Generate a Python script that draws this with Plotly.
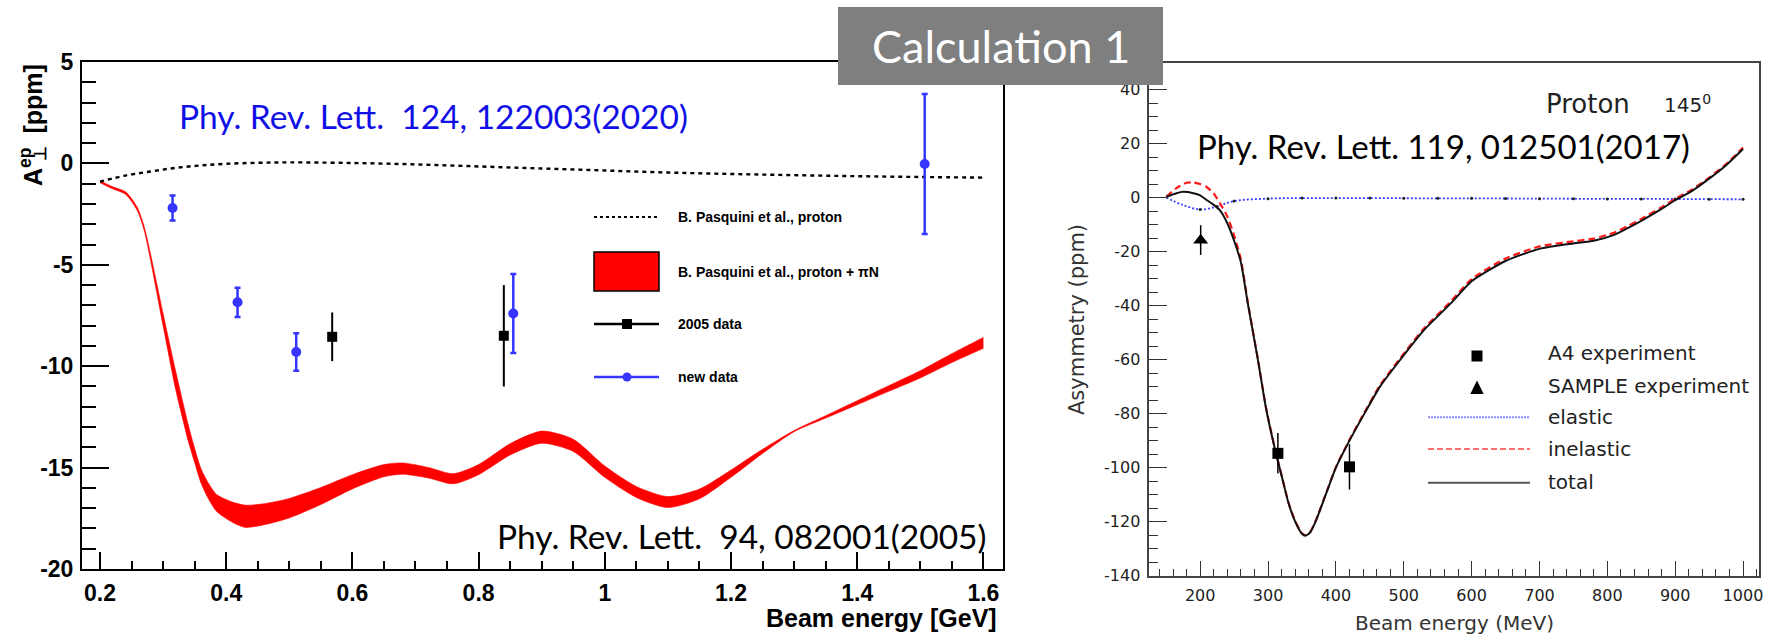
import plotly.graph_objects as go

W, H = 1765, 635


def px(x):
    return x / W


def py(y):
    return 1 - y / H


# ---------------- Left panel data (GeV, ppm) ----------------
band_x = [0.20, 0.22, 0.24, 0.25, 0.26, 0.27, 0.28, 0.30, 0.32, 0.34, 0.35, 0.36, 0.37, 0.385,
          0.41, 0.43, 0.46, 0.50, 0.55, 0.60, 0.65, 0.68, 0.72, 0.76, 0.80, 0.85, 0.90, 0.95,
          1.00, 1.05, 1.10, 1.15, 1.20, 1.25, 1.30, 1.35, 1.40, 1.45, 1.50, 1.55, 1.60]
band_upper = [-0.85, -1.15, -1.39, -1.73, -2.22, -3.11, -4.45, -7.40, -10.25, -12.90, -14.05, -15.05,
              -15.67, -16.33, -16.70, -16.85, -16.78, -16.52, -15.98, -15.35, -14.85, -14.77, -14.99,
              -15.30, -14.85, -13.82, -13.20, -13.60, -14.92, -15.93, -16.43, -16.06, -15.12, -14.10,
              -13.17, -12.44, -11.70, -10.96, -10.22, -9.38, -8.58]
band_lower = [-0.95, -1.25, -1.51, -1.87, -2.38, -3.29, -4.75, -8.00, -11.15, -13.70, -14.75, -15.75,
              -16.43, -17.17, -17.70, -17.95, -17.82, -17.48, -16.82, -16.05, -15.45, -15.33, -15.51,
              -15.80, -15.35, -14.38, -13.80, -14.20, -15.48, -16.47, -16.97, -16.54, -15.48, -14.30,
              -13.23, -12.56, -11.90, -11.24, -10.58, -9.82, -9.12]

proton_x = [0.20, 0.24, 0.28, 0.32, 0.36, 0.40, 0.45, 0.50, 0.60, 0.70, 0.80, 0.90, 1.00, 1.10,
            1.20, 1.30, 1.40, 1.50, 1.60]
proton_y = [-0.90, -0.60, -0.40, -0.22, -0.10, -0.02, 0.03, 0.05, 0.02, -0.05, -0.15, -0.25, -0.35,
            -0.45, -0.52, -0.58, -0.63, -0.67, -0.70]

data2005_x = [0.568, 0.840]
data2005_y = [-8.55, -8.50]
data2005_err = [1.2, 2.5]

new_x = [0.315, 0.418, 0.511, 0.855, 1.507]
new_y = [-2.2, -6.85, -9.3, -7.4, -0.03]
new_err = [0.62, 0.72, 0.92, 1.95, 3.45]

left_xticks = [0.2, 0.4, 0.6, 0.8, 1.0, 1.2, 1.4, 1.6]
left_xtext = ["0.2", "0.4", "0.6", "0.8", "1", "1.2", "1.4", "1.6"]
left_yticks = [-20, -15, -10, -5, 0, 5]
left_ytext = ["-20", "-15", "-10", "-5", "0", "5"]

# ---------------- Right panel data (MeV, ppm) ----------------
total_x = [150, 165, 175, 190, 200, 210, 220, 230, 240, 250, 260, 270, 285, 297, 310, 320, 330, 340,
           350, 355, 362, 370, 385, 400, 420, 442, 465, 495, 530, 570, 600, 650, 700, 750, 780,
           810, 830, 850, 880, 900, 925, 950, 975, 1000]
total_y = [0.3, 1.6, 2.1, 1.6, 0.8, -1.0, -2.7, -5.0, -9.5, -16.0, -24.0, -39.0, -60.0, -78.0,
           -93.0, -103.0, -113.0, -120.0, -124.5, -125.2, -124.0, -120.0, -110.0, -100.0, -90.0,
           -80.0, -70.0, -60.0, -49.0, -39.0, -31.0, -23.5, -19.0, -17.0, -16.0, -13.8, -11.3,
           -8.6, -4.2, -1.0, 2.5, 7.0, 12.0, 18.0]
inel_x = [150, 165, 180, 190, 200, 210, 220, 230, 240, 250, 260, 270, 285, 297, 310, 320, 330, 340,
          350, 355, 362, 370, 385, 400, 420, 442, 465, 495, 530, 570, 600, 650, 700, 750, 780,
          810, 830, 850, 880, 900, 925, 950, 975, 1000]
inel_y = [0.3, 3.5, 5.5, 5.6, 5.0, 3.8, 1.5, -2.5, -7.0, -14.0, -23.0, -38.5, -59.8, -77.8,
          -92.8, -102.8, -112.8, -119.8, -124.3, -125.0, -123.8, -119.8, -109.8, -99.8, -89.7,
          -79.6, -69.5, -59.4, -48.4, -38.3, -30.2, -22.6, -18.1, -16.2, -15.2, -13.0, -10.6,
          -7.9, -3.6, -0.5, 3.0, 7.4, 12.4, 18.5]
elastic_x = [150, 175, 200, 225, 250, 300, 350, 400, 450, 500, 550, 600, 650, 700, 750, 800, 850,
             900, 950, 1000]
elastic_y = [0.0, -2.8, -4.4, -3.3, -1.3, -0.4, -0.2, -0.2, -0.2, -0.25, -0.3, -0.3, -0.35, -0.4,
             -0.45, -0.5, -0.5, -0.55, -0.6, -0.65]

a4_x = [314.5, 420.0]
a4_y = [-94.7, -99.7]
a4_err = [7.5, 8.4]
sample_x = [200.7]
sample_y = [-15.8]
sample_err = [5.5]

right_xticks = [200, 300, 400, 500, 600, 700, 800, 900, 1000]
right_xtext = ["200", "300", "400", "500", "600", "700", "800", "900", "1000"]
right_yticks = [-140, -120, -100, -80, -60, -40, -20, 0, 20, 40]
right_ytext = ["-140", "-120", "-100", "-80", "-60", "-40", "-20", "0", "20", "40"]

BLUE = "#3535ff"
fig = go.Figure()

# left: red band
fig.add_trace(go.Scatter(x=band_x, y=band_lower, mode="lines", xaxis="x", yaxis="y",
                         line=dict(color="#ff0000", width=0.6, shape="spline", smoothing=0.7),
                         showlegend=False, hoverinfo="skip"))
fig.add_trace(go.Scatter(x=band_x, y=band_upper, mode="lines", xaxis="x", yaxis="y",
                         fill="tonexty", fillcolor="#ff0000",
                         line=dict(color="#ff0000", width=0.6, shape="spline", smoothing=0.7),
                         showlegend=False, hoverinfo="skip"))
# proton dotted
fig.add_trace(go.Scatter(x=proton_x, y=proton_y, mode="lines", xaxis="x", yaxis="y",
                         line=dict(color="black", width=2.4, dash="4px,4px", shape="spline"),
                         showlegend=False))
# 2005 data
fig.add_trace(go.Scatter(x=data2005_x, y=data2005_y, mode="markers", xaxis="x", yaxis="y",
                         marker=dict(symbol="square", size=10, color="black"),
                         error_y=dict(type="data", array=data2005_err, color="black", thickness=2, width=0),
                         showlegend=False))
# new data
fig.add_trace(go.Scatter(x=new_x, y=new_y, mode="markers", xaxis="x", yaxis="y",
                         marker=dict(symbol="circle", size=10, color=BLUE),
                         error_y=dict(type="data", array=new_err, color=BLUE, thickness=2.5, width=3),
                         showlegend=False))

# right curves
fig.add_trace(go.Scatter(x=elastic_x, y=elastic_y, mode="lines", xaxis="x2", yaxis="y2",
                         line=dict(color="#3c3cff", width=1.8, dash="2px,2px", shape="spline"),
                         showlegend=False))
fig.add_trace(go.Scatter(x=[v for v in elastic_x if v >= 200],
                         y=[elastic_y[i] for i, v in enumerate(elastic_x) if v >= 200],
                         mode="markers", xaxis="x2", yaxis="y2",
                         marker=dict(size=3, color="#222"), showlegend=False))
fig.add_trace(go.Scatter(x=inel_x, y=inel_y, mode="lines", xaxis="x2", yaxis="y2",
                         line=dict(color="#ff1a1a", width=2.2, dash="7px,4px", shape="spline", smoothing=0.6),
                         showlegend=False))
fig.add_trace(go.Scatter(x=total_x, y=total_y, mode="lines", xaxis="x2", yaxis="y2",
                         line=dict(color="#111", width=2, shape="spline", smoothing=0.6),
                         showlegend=False))
fig.add_trace(go.Scatter(x=a4_x, y=a4_y, mode="markers", xaxis="x2", yaxis="y2",
                         marker=dict(symbol="square", size=11, color="black"),
                         error_y=dict(type="data", array=a4_err, color="black", thickness=1.5, width=0),
                         showlegend=False))
fig.add_trace(go.Scatter(x=sample_x, y=sample_y, mode="markers", xaxis="x2", yaxis="y2",
                         marker=dict(symbol="triangle-up", size=13, color="black"),
                         error_y=dict(type="data", array=sample_err, color="black", thickness=1.5, width=0),
                         showlegend=False))

LBOLD = dict(family="Liberation Sans, Arial, sans-serif", size=23, color="black", weight="bold")
DJ = dict(family="DejaVu Sans", size=16, color="#222")

fig.update_layout(
    width=W, height=H, margin=dict(l=0, r=0, t=0, b=0, pad=0, autoexpand=False),
    paper_bgcolor="white", plot_bgcolor="white", showlegend=False,
    xaxis=dict(domain=[px(82), px(1002.7)], range=[0.1715, 1.6306], anchor="y", automargin=False,
               showline=True, mirror=True, linecolor="black", linewidth=2,
               showgrid=False, zeroline=False,
               tickmode="array", tickvals=left_xticks, ticktext=left_xtext,
               ticks="inside", ticklen=17, tickwidth=1.5, tickcolor="black",
               minor=dict(tickmode="linear", tick0=0, dtick=0.05, ticks="inside", ticklen=8,
                          tickwidth=1.5, tickcolor="black", showgrid=False),
               tickfont=LBOLD, ticklabelstandoff=2),
    yaxis=dict(domain=[py(569), py(62)], range=[-20, 5], anchor="x", automargin=False,
               showline=True, mirror=True, linecolor="black", linewidth=2,
               showgrid=False, zeroline=False,
               tickmode="array", tickvals=left_yticks, ticktext=left_ytext,
               ticks="inside", ticklen=27, tickwidth=1.5, tickcolor="black",
               minor=dict(tickmode="linear", tick0=0, dtick=1, ticks="inside", ticklen=14,
                          tickwidth=1.5, tickcolor="black", showgrid=False),
               tickfont=LBOLD, ticklabelstandoff=2),
    xaxis2=dict(domain=[px(1149.3), px(1759)], range=[125, 1023.5], anchor="y2", automargin=False,
                showline=True, mirror=True, linecolor="#444", linewidth=1.5,
                showgrid=False, zeroline=False,
                tickmode="array", tickvals=right_xticks, ticktext=right_xtext,
                ticks="inside", ticklen=15, tickwidth=1.2, tickcolor="#333",
                minor=dict(tickmode="linear", tick0=0, dtick=20, ticks="inside", ticklen=7,
                           tickwidth=1.2, tickcolor="#333", showgrid=False),
                tickfont=DJ, ticklabelstandoff=4),
    yaxis2=dict(domain=[py(575.7), py(63.3)], range=[-140, 49.7], anchor="x2", automargin=False,
                showline=True, mirror=True, linecolor="#444", linewidth=1.5,
                showgrid=False, zeroline=False,
                tickmode="array", tickvals=right_yticks, ticktext=right_ytext,
                ticks="inside", ticklen=18, tickwidth=1.2, tickcolor="#333",
                minor=dict(tickmode="linear", tick0=0, dtick=5, ticks="inside", ticklen=9,
                           tickwidth=1.2, tickcolor="#333", showgrid=False),
                tickfont=DJ, ticklabelstandoff=4),
)

shapes = []
ann = []


def P(x, y):
    return dict(x=px(x), y=py(y), xref="paper", yref="paper")


def text(x, y, t, font, xanchor="left", yanchor="middle", angle=0):
    d = P(x, y)
    d.update(text=t, showarrow=False, font=font, xanchor=xanchor, yanchor=yanchor, textangle=angle)
    ann.append(d)


def line(x0, x1, y, color, width, dash="solid"):
    shapes.append(dict(type="line", xref="paper", yref="paper", x0=px(x0), x1=px(x1), y0=py(y), y1=py(y),
                       line=dict(color=color, width=width, dash=dash), layer="above"))


def rect(x0, y0, x1, y1, fill, lc=None, lw=0, kind="rect"):
    shapes.append(dict(type=kind, xref="paper", yref="paper", x0=px(x0), x1=px(x1), y0=py(y0), y1=py(y1),
                       fillcolor=fill, line=dict(color=lc or fill, width=lw), layer="above"))


# ---- left legend
LEG = dict(family="Liberation Sans, Arial, sans-serif", size=14, color="black", weight="bold")
line(594, 659, 217, "black", 2, "3px,3px")
text(676, 217, "B. Pasquini et al., proton", LEG)
rect(594, 252, 659, 291, "#ff0000", "black", 1.5)
text(676, 271.5, "B. Pasquini et al., proton + πN", LEG)
line(594, 659, 324, "black", 2.5)
rect(622, 319, 632, 329, "black")
text(676, 324, "2005 data", LEG)
line(594, 659, 377, BLUE, 2.5)
rect(622.5, 372.5, 631.5, 381.5, BLUE, kind="circle")
text(676, 377, "new data", LEG)

# ---- right legend
RL = dict(family="DejaVu Sans", size=20, color="#222")
rect(1471.5, 350.5, 1482.5, 361.5, "black")
text(1546, 353, "A4 experiment", RL)
shapes.append(dict(type="path", xref="paper", yref="paper",
                   path="M %f %f L %f %f L %f %f Z" % (px(1477), py(380.5), px(1470.3), py(394), px(1483.7), py(394)),
                   fillcolor="black", line=dict(color="black", width=0), layer="above"))
text(1546, 386, "SAMPLE experiment", RL)
line(1428, 1530, 417.3, "#8c8cff", 2, "2px,1px")
text(1546, 417.3, "elastic", RL)
line(1428, 1530, 449, "#ff7070", 2, "6px,3px")
text(1546, 448.5, "inelastic", RL)
line(1428, 1530, 482.7, "#555", 2)
text(1546, 481.7, "total", RL)

# ---- axis titles
text(31, 62, "A<sup>ep</sup>\u00a0 [ppm]", dict(family="Liberation Sans, Arial, sans-serif", size=25,
                                                color="black", weight="bold"), xanchor="center",
     yanchor="top", angle=-90)
text(41, 154, "⊥", dict(family="Liberation Sans, Arial, sans-serif", size=17, color="black",
                        weight="bold"), xanchor="center", yanchor="middle", angle=-90)
text(999, 618, "Beam energy [GeV]", dict(family="Liberation Sans, Arial, sans-serif", size=25,
                                         color="black", weight="bold"), xanchor="right")
text(1077, 320, "Asymmetry (ppm)", dict(family="DejaVu Sans", size=21, color="#333"),
     xanchor="center", angle=-90)
text(1454, 623, "Beam energy (MeV)", dict(family="DejaVu Sans", size=20, color="#333"),
     xanchor="center")

# ---- citations
CAL = "Lato, Carlito, sans-serif"
text(177, 116, "Phy. Rev. Lett.\u00a0 124, 122003(2020)", dict(family=CAL, size=33.5, color="#1010e6"))
text(495, 536, "Phy. Rev. Lett.\u00a0 94, 082001(2005)", dict(family=CAL, size=33.5, color="black"))
text(1195, 146, "Phy. Rev. Lett. 119, 012501(2017)", dict(family=CAL, size=33, color="black"))
text(1544, 104, "Proton", dict(family="DejaVu Sans", size=26, color="#222"))
text(1662, 104, "145<sup>0</sup>", dict(family="DejaVu Sans", size=20, color="#222"))

# ---- Calculation 1 box
rect(838, 7, 1163, 85, "#7f7f7f")
text(1000.5, 46, "Calculation 1", dict(family=CAL, size=45, color="white"), xanchor="center")

fig.update_layout(shapes=shapes, annotations=ann)
fig.write_html("out.html")
